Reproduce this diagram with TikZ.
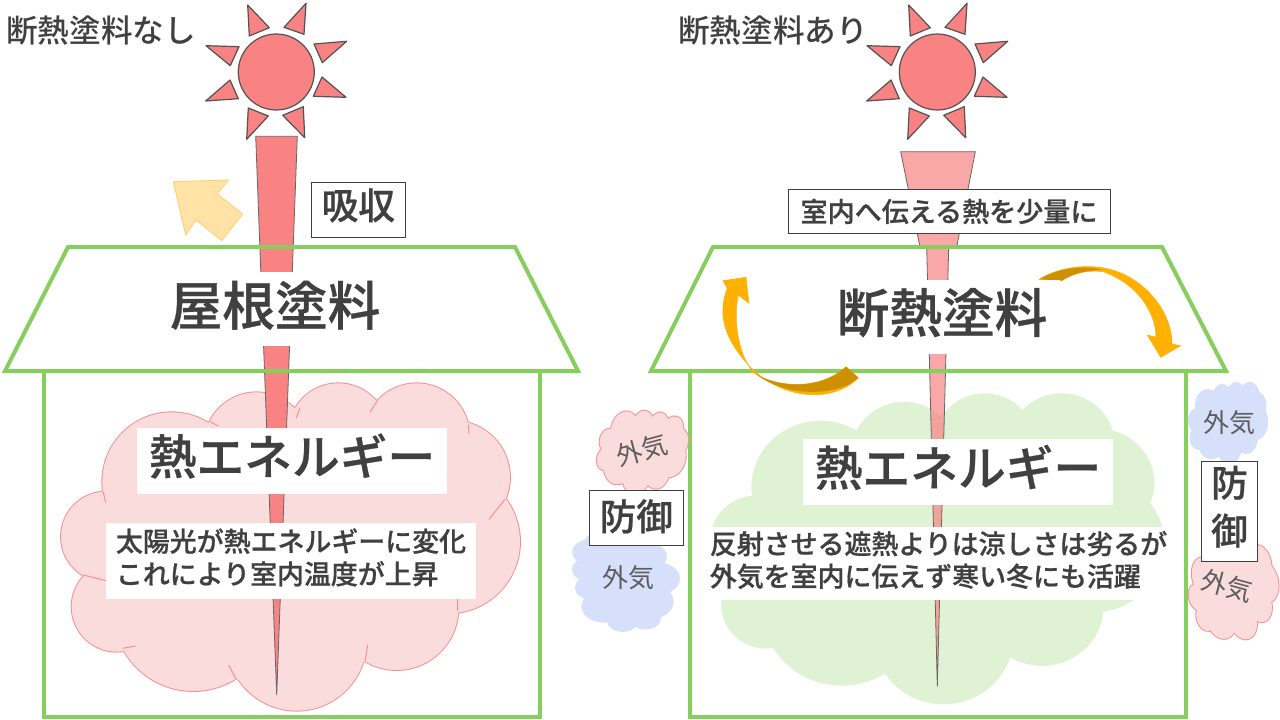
\documentclass[tikz,border=0pt]{standalone}
\usepackage{fontspec}
\setmainfont{Noto Sans CJK JP}[BoldFont={Noto Sans CJK JP Medium},BoldFeatures={FakeBold=0.6}]
\newfontfamily\mediumtext{Noto Sans CJK JP Medium}
\definecolor{wallgreen}{HTML}{86CF5E}
\definecolor{inkgray}{HTML}{404040}
\definecolor{sunred}{HTML}{F98282}
\definecolor{puffpink}{HTML}{FBDCDC}
\definecolor{puffline}{HTML}{F98B8B}
\definecolor{puffblue}{HTML}{D6E0FB}
\definecolor{puffgreen}{HTML}{DFF3D4}
\definecolor{arroworange}{HTML}{FFB000}
\definecolor{arrowdark}{HTML}{CC9000}
\tikzset{
    wall/.style={draw=wallgreen,line width=3pt,line join=miter},
    sunpart/.style={draw=inkgray!90,fill=sunred,line width=0.9pt,line join=round},
    beam/.style={draw=inkgray!80,fill=sunred,line width=0.6pt},
    softbeam/.style={beam,fill opacity=0.7},
    whitebox/.style={fill=white,inner sep=0pt,text=inkgray,font=\bfseries},
    tagbox/.style={whitebox,draw=inkgray,line width=0.75pt},
    airtext/.style={inner sep=0pt,text=inkgray!85,font=\fontsize{19.5}{23}\selectfont},
    titletext/.style={anchor=west,inner sep=0pt,text=inkgray,font=\mediumtext\fontsize{23.7}{28}\selectfont}
}
\newcommand{\puffbody}[2]{
    \foreach \cx/\cy/\cr in {395/425/208,650/315/158,895/280/150,1130/289/159,1240/412/170,1225/605/215,1070/805/185,770/902/210,460/813/240,230/800/135,198/590/135} {
        \draw[#1,line width=1.4pt] (\cx,\cy) circle (\cr);
    }
    \foreach \cx/\cy/\cr in {395/425/208,650/315/158,895/280/150,1130/289/159,1240/412/170,1225/605/215,1070/805/185,770/902/210,460/813/240,230/800/135,198/590/135} {
        \fill[#2] (\cx,\cy) circle (\cr);
    }
    \fill[#2] (190,456) -- (510,245) -- (780,205) -- (1013,180) -- (1285,255) -- (1395,478) -- (1253,812) -- (975,965) -- (590,1020) -- (248,925) -- (130,705) -- cycle;
}
\begin{document}
\begin{tikzpicture}[x=0.75pt,y=-0.75pt]
    \useasboundingbox (0,0) rectangle (1280,720);
    \fill[white] (0,0) rectangle (1280,720);

    \foreach \shiftx in {0,661} {
        \begin{scope}[shift={(\shiftx,0)}]
            \draw[sunpart] (276.3,72) circle (38);
            \foreach \ax/\ay/\bx/\by/\cx/\cy in {247.7/5/269.3/27.7/249.3/36,306/3.3/284/27.3/304/34.3,346.7/41.3/314/44/322.3/62.7,346/97.3/313.3/96.3/322/77,304.7/137.7/282.7/115.3/303.3/106.7,246.7/139.3/268.3/116/248.3/108,205.7/101/238.3/98.7/230/80,206/45.7/239/46.7/230.3/65.7} {
                \draw[sunpart] (\ax,\ay) -- (\bx,\by) -- (\cx,\cy) -- cycle;
            }
        \end{scope}
    }

    \begin{scope}[shift={(40,340)},scale=1/3]
        \puffbody{puffline}{puffpink}
        \draw[puffline,line width=0.7pt] (768,235) -- (780,205) (990,217) -- (1013,180) (1285,255) -- (1287,282)
            (1395,478) -- (1347,538) (1253,812) -- (1253,770) (983,915) -- (975,965)
            (566,975) -- (590,1020) (248,925) -- (287,918) (130,705) -- (197,722)
            (190,456) -- (197,488) (510,245) -- (535,258);
    \end{scope}
    \begin{scope}[shift={(691,353.4)},xscale=0.328,yscale=0.3147]
        \puffbody{puffgreen}{puffgreen}
    \end{scope}

    \draw[beam] (255.7,136.3) -- (297.3,136.3) -- (276.7,695) -- cycle;
    \draw[softbeam] (900.7,151.7) -- (975.3,151.7) -- (956.7,247) -- (920,247) -- cycle;
    \draw[softbeam] (926.7,247) -- (948.7,247) -- (937.3,686.7) -- cycle;

    \draw[wall] (68,247) -- (515,247) -- (578,371) -- (5,371) -- cycle;
    \draw[wall] (44,371) -- (44,717) -- (540,717) -- (540,371);
    \draw[wall] (713,247) -- (1162,247) -- (1226,371) -- (651,371) -- cycle;
    \draw[wall] (690,371) -- (690,717) -- (1186,717) -- (1186,371);

    \draw[draw=arroworange,fill=arroworange,line width=0.4pt] (746,277.3) -- (749,303.3) -- (738.3,295)
        .. controls (733,320) and (738,354) .. (753,371.7)
        .. controls (770,386) and (818,393) .. (846,366.7) -- (858.3,377.7)
        .. controls (835,402) and (785,402) .. (750,366.7)
        .. controls (730,345) and (715,320) .. (727.3,288.3) -- (723,280.7) -- cycle;
    \fill[arrowdark] (753,371.7) .. controls (770,386) and (818,393) .. (846,366.7) -- (858.3,377.7)
        .. controls (838,397) and (783,398) .. cycle;
    \draw[draw=arroworange,fill=arroworange,line width=0.4pt] (1039.3,279.3)
        .. controls (1060,266) and (1095,262) .. (1120,272.7)
        .. controls (1150,285) and (1172,315) .. (1172,344) -- (1180.7,345.7) -- (1160.7,357.3) -- (1147.3,335) -- (1156,337.3)
        .. controls (1156,315) and (1140,285) .. (1103.3,271.7)
        .. controls (1090,270) and (1075,272) .. (1061.7,280.7) -- cycle;
    \fill[arrowdark] (1039.3,279.3) .. controls (1055,270) and (1080,264) .. (1103.3,270)
        .. controls (1090,270) and (1075,272) .. (1061.7,280.7) -- cycle;

    \draw[draw=arroworange!60!white,fill=arroworange!35!white,line width=0.6pt] (173.3,181.7) -- (228.3,180) -- (217.3,194) -- (242.7,214) -- (221.7,240.7) -- (196,220) -- (185.7,235) -- cycle;

    \node[titletext] (titleplain) at (6,31) {断熱塗料なし};
    \node[titletext] (titleshield) at (678,31) {断熱塗料あり};

    \node[tagbox,minimum width=70.5pt,minimum height=41pt,font=\bfseries\fontsize{27.5}{32}\selectfont] (absorb) at (358.3,209.8) {\raisebox{9pt}{吸収}};
    \node[tagbox,minimum width=241.5pt,minimum height=33pt,font=\bfseries\fontsize{20.3}{24}\selectfont] (lessheat) at (949,212) {\raisebox{2.5pt}{室内へ伝える熱を少量に}};
    \node[whitebox,minimum width=177pt,minimum height=55.5pt,font=\bfseries\fontsize{39.5}{46}\selectfont] (roofplain) at (275,309) {\raisebox{9pt}{屋根塗料}};
    \node[whitebox,minimum width=177pt,minimum height=55.5pt,font=\bfseries\fontsize{39.5}{46}\selectfont] (roofshield) at (942,317) {\raisebox{10pt}{断熱塗料}};
    \node[whitebox,minimum width=232.5pt,minimum height=50pt,font=\bfseries\fontsize{35.8}{42}\selectfont] (heatplain) at (292,461) {\raisebox{10.5pt}{熱エネルギー}};
    \node[whitebox,minimum width=232.5pt,minimum height=50pt,font=\bfseries\fontsize{35.8}{42}\selectfont] (heatshield) at (958,472) {\raisebox{10pt}{熱エネルギー}};
    \node[whitebox,minimum width=277.5pt,minimum height=57pt,font=\bfseries\fontsize{20.2}{24}\selectfont] (noteplain) at (291,561) {\raisebox{-4pt}{\begin{tabular}{@{}l@{}}太陽光が熱エネルギーに変化\\これにより室内温度が上昇\end{tabular}}};
    \node[whitebox,minimum width=354pt,minimum height=55pt,font=\bfseries\fontsize{20.2}{24}\selectfont] (noteshield) at (938.5,563.5) {\raisebox{-4pt}{\begin{tabular}{@{}l@{}}反射させる遮熱よりは涼しさは劣るが\\外気を室内に伝えず寒い冬にも活躍\end{tabular}}};

    \begin{scope}[shift={(642,452)},rotate=-15,xscale=0.064,yscale=0.088,shift={(-751.5,-621)}]
        \puffbody{puffline}{puffpink}
    \end{scope}
    \begin{scope}[shift={(626,580)},rotate=90,xscale=0.074,yscale=0.108,shift={(-751.5,-621)}]
        \puffbody{puffblue}{puffblue}
    \end{scope}
    \begin{scope}[shift={(1228,423)},xscale=0.057,yscale=0.082,shift={(-751.5,-621)}]
        \puffbody{puffblue}{puffblue}
    \end{scope}
    \begin{scope}[shift={(1234,591)},rotate=15,xscale=0.066,yscale=0.102,shift={(-751.5,-621)}]
        \puffbody{puffline}{puffpink}
    \end{scope}

    \node[airtext,rotate=15] (airpink) at (642,450) {外気};
    \node[airtext] (airblue) at (628,578) {外気};
    \node[airtext] (airtop) at (1229,423) {外気};
    \node[airtext,rotate=-15] (airlow) at (1227,586) {外気};

    \node[tagbox,minimum width=70.5pt,minimum height=41pt,font=\bfseries\fontsize{27.5}{32}\selectfont] (guardleft) at (636.3,517.8) {\raisebox{4.5pt}{防御}};
    \node[tagbox,minimum width=41.5pt,minimum height=75pt,font=\bfseries\fontsize{27.5}{36}\selectfont] (guardright) at (1229.5,511) {\raisebox{-3pt}{\begin{tabular}{@{}c@{}}防\\御\end{tabular}}};
\end{tikzpicture}
\end{document}
